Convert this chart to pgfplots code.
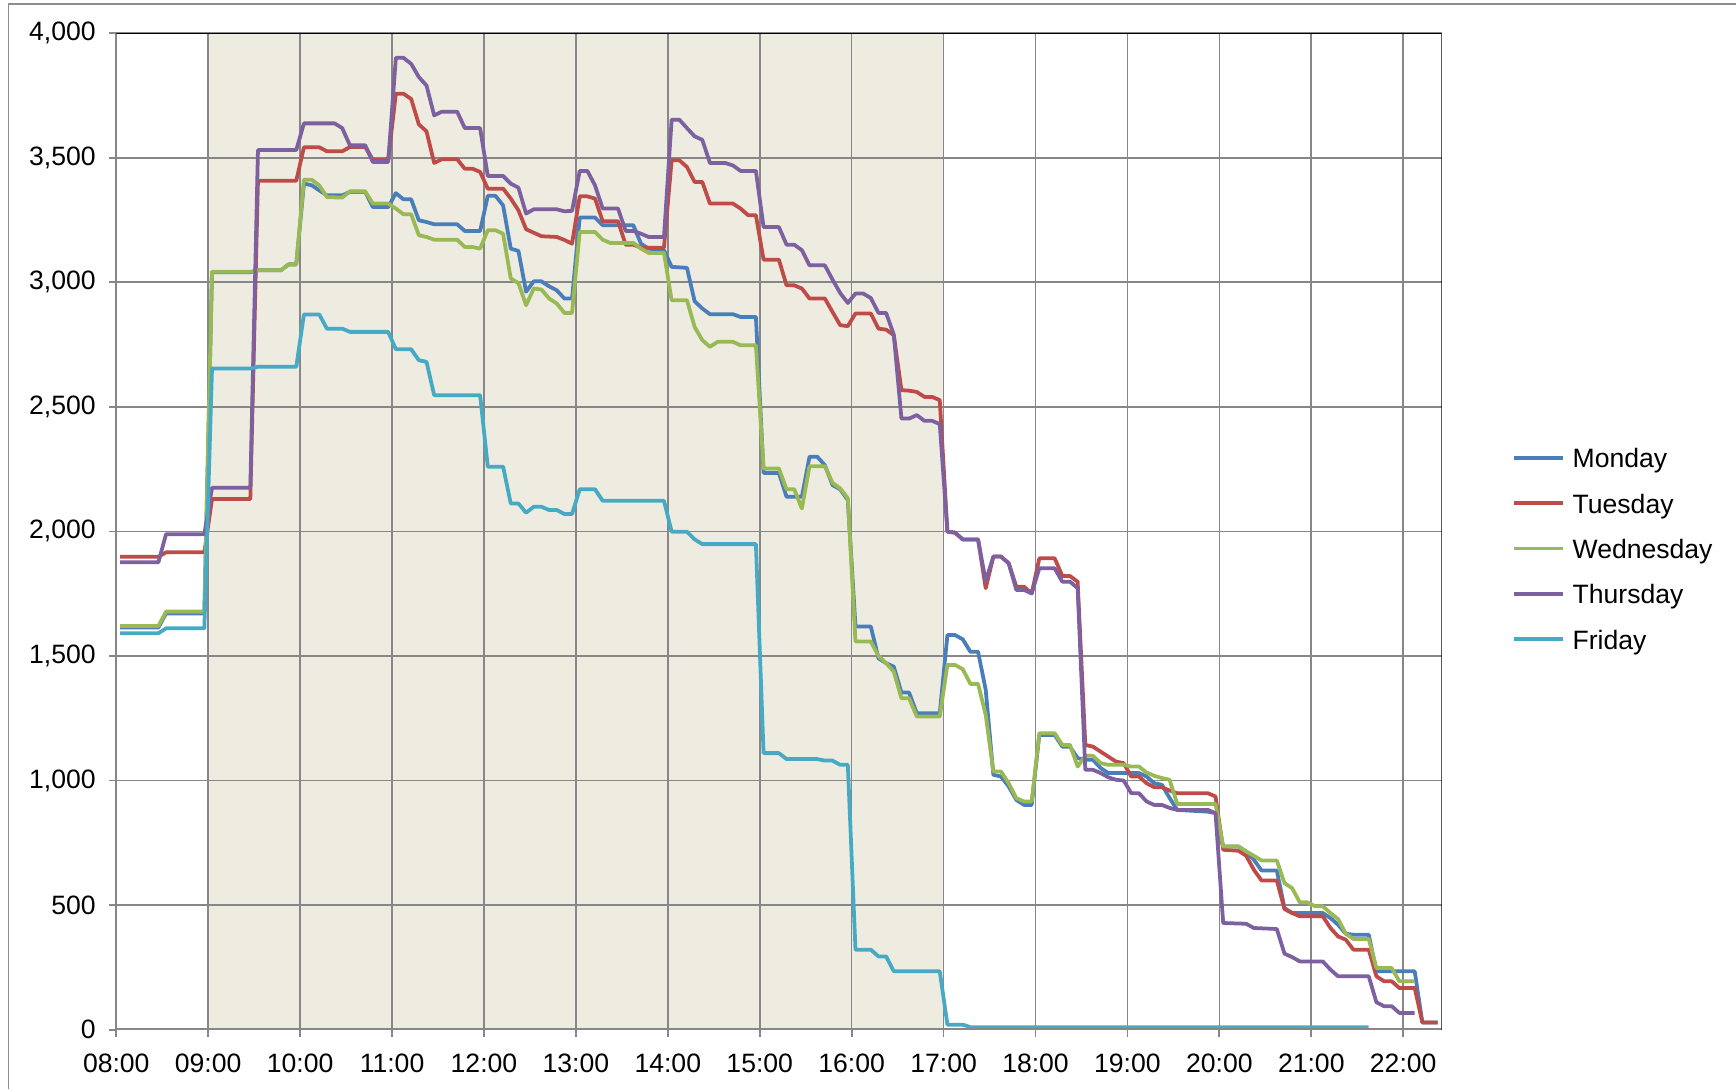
\documentclass[border=0pt]{standalone}
\usepackage{pgfplots}
\pgfplotsset{compat=1.18}
\usepackage{fontspec}
\setmainfont{Liberation Sans}
\definecolor{cMon}{HTML}{4A7EBB}
\definecolor{cTue}{HTML}{BE4B48}
\definecolor{cWed}{HTML}{98B954}
\definecolor{cThu}{HTML}{7D60A0}
\definecolor{cFri}{HTML}{46AAC5}
\definecolor{shadecol}{HTML}{EEECE1}
\definecolor{gridgray}{HTML}{878787}
\definecolor{framegray}{HTML}{8C8C8C}
\begin{document}
\begin{tikzpicture}
\begin{axis}[
  set layers,
  at={(52.5pt,27pt)}, anchor=south west,
  scale only axis, width=598.5pt, height=450pt,
  xmin=0, xmax=865, ymin=0, ymax=4000,
  xtick={0,60,...,840},
  xticklabels={08:00,09:00,10:00,11:00,12:00,13:00,14:00,15:00,16:00,17:00,18:00,19:00,20:00,21:00,22:00},
  ytick={0,500,...,4000},
  yticklabels={0,500,{1,000},{1,500},{2,000},{2,500},{3,000},{3,500},{4,000}},
  grid=major, major grid style={color=gridgray, line width=0.75pt},
  axis line style={draw=none},
  tick align=outside, xtick pos=left, ytick pos=left,
  major tick length=3.3pt,
  tick style={color=gridgray, line width=0.8pt},
  tick label style={font=\fontsize{12}{14.4}\selectfont, text=black},
  xticklabel style={yshift=-4.3pt},
  yticklabel style={xshift=-2.5pt},
  legend cell align=left,
  legend style={at={(axis description cs:1.0535,0.4828)}, anchor=west, draw=none, fill=none,
    inner sep=0pt, outer sep=0pt, row sep=11.6pt, column sep=3.5pt,
    nodes={inner sep=0pt, text height=8.9pt, text depth=0pt, font=\fontsize{12}{14.4}\selectfont}},
  legend image code/.code={\draw[#1, line width=1.7pt] (0pt,0pt) -- (22pt,0pt);},
  every axis plot/.append style={line width=1.7pt, line join=round, mark=none},
]
\addplot[fill=shadecol, draw=none, line width=0pt, forget plot, on layer=axis background] coordinates {(60,0)(60,4000)(540,4000)(540,0)} \closedcycle;

\addplot[color=cMon] coordinates {(2.5,1614)(27.5,1614)(32.5,1671)(57.5,1671)(62.5,3040)(87.5,3040)(92.5,3048)(107.5,3048)(112.5,3072)(117.5,3072)(122.5,3396)(127.5,3390)(132.5,3369)(137.5,3349)(147.5,3349)(152.5,3363)(162.5,3363)(167.5,3302)(177.5,3302)(182.5,3358)(187.5,3333)(192.5,3333)(197.5,3249)(202.5,3242)(207.5,3233)(222.5,3233)(227.5,3206)(237.5,3206)(242.5,3347)(247.5,3347)(252.5,3309)(257.5,3135)(262.5,3126)(267.5,2962)(272.5,3004)(277.5,3004)(282.5,2984)(287.5,2968)(292.5,2935)(297.5,2935)(302.5,3260)(312.5,3260)(317.5,3229)(337.5,3229)(342.5,3155)(347.5,3135)(357.5,3129)(362.5,3062)(372.5,3058)(377.5,2924)(382.5,2895)(387.5,2872)(402.5,2872)(407.5,2861)(417.5,2861)(422.5,2235)(432.5,2235)(437.5,2139)(447.5,2139)(452.5,2300)(457.5,2300)(462.5,2266)(467.5,2186)(472.5,2169)(477.5,2126)(482.5,1618)(492.5,1618)(497.5,1491)(502.5,1471)(507.5,1457)(512.5,1353)(517.5,1353)(522.5,1270)(537.5,1270)(542.5,1584)(547.5,1584)(552.5,1567)(557.5,1517)(562.5,1517)(567.5,1364)(572.5,1023)(577.5,1016)(582.5,976)(587.5,922)(592.5,902)(597.5,902)(602.5,1183)(612.5,1183)(617.5,1136)(622.5,1136)(627.5,1090)(632.5,1083)(637.5,1083)(642.5,1050)(647.5,1030)(667.5,1030)(672.5,1016)(677.5,989)(682.5,983)(687.5,930)(692.5,882)(712.5,875)(717.5,869)(722.5,735)(732.5,735)(737.5,715)(742.5,682)(747.5,639)(757.5,639)(762.5,488)(767.5,468)(787.5,468)(792.5,448)(797.5,421)(802.5,385)(807.5,381)(817.5,381)(822.5,234)(847.5,234)(852.5,29)(862.5,29)};
\addlegendentry{Monday}

\addplot[color=cTue] coordinates {(2.5,1898)(27.5,1898)(32.5,1916)(57.5,1916)(62.5,2130)(87.5,2130)(92.5,3408)(117.5,3408)(122.5,3542)(132.5,3542)(137.5,3526)(147.5,3526)(152.5,3543)(162.5,3543)(167.5,3492)(177.5,3492)(182.5,3757)(187.5,3757)(192.5,3736)(197.5,3634)(202.5,3606)(207.5,3479)(212.5,3494)(222.5,3494)(227.5,3456)(232.5,3456)(237.5,3443)(242.5,3376)(252.5,3376)(257.5,3336)(262.5,3289)(267.5,3213)(272.5,3199)(277.5,3185)(287.5,3182)(292.5,3170)(297.5,3155)(302.5,3345)(307.5,3345)(312.5,3336)(317.5,3245)(327.5,3245)(332.5,3151)(337.5,3151)(342.5,3139)(357.5,3139)(362.5,3490)(367.5,3490)(372.5,3463)(377.5,3403)(382.5,3403)(387.5,3316)(402.5,3316)(407.5,3296)(412.5,3269)(417.5,3269)(422.5,3091)(432.5,3091)(437.5,2988)(442.5,2988)(447.5,2975)(452.5,2935)(462.5,2935)(467.5,2881)(472.5,2828)(477.5,2824)(482.5,2875)(492.5,2875)(497.5,2814)(502.5,2810)(507.5,2788)(512.5,2567)(517.5,2565)(522.5,2560)(527.5,2540)(532.5,2540)(537.5,2527)(542.5,1999)(547.5,1995)(552.5,1968)(562.5,1968)(567.5,1772)(572.5,1899)(577.5,1899)(582.5,1872)(587.5,1778)(592.5,1778)(597.5,1751)(602.5,1892)(612.5,1892)(617.5,1821)(622.5,1821)(627.5,1798)(632.5,1143)(637.5,1136)(642.5,1116)(647.5,1096)(652.5,1076)(657.5,1070)(662.5,1016)(667.5,1016)(672.5,989)(677.5,973)(682.5,973)(687.5,960)(692.5,949)(712.5,949)(717.5,936)(722.5,722)(732.5,718)(737.5,698)(742.5,642)(747.5,599)(757.5,599)(762.5,484)(767.5,468)(772.5,455)(787.5,455)(792.5,408)(797.5,374)(802.5,361)(807.5,321)(817.5,321)(822.5,214)(827.5,194)(832.5,194)(837.5,167)(847.5,167)(852.5,29)(862.5,29)};
\addlegendentry{Tuesday}

\addplot[color=cWed] coordinates {(2.5,1620)(27.5,1620)(32.5,1678)(57.5,1678)(62.5,3042)(87.5,3042)(92.5,3048)(107.5,3048)(112.5,3072)(117.5,3072)(122.5,3412)(127.5,3412)(132.5,3389)(137.5,3342)(147.5,3340)(152.5,3365)(162.5,3365)(167.5,3316)(177.5,3316)(182.5,3296)(187.5,3273)(192.5,3273)(197.5,3189)(202.5,3182)(207.5,3171)(222.5,3171)(227.5,3142)(232.5,3142)(237.5,3135)(242.5,3209)(247.5,3209)(252.5,3195)(257.5,3015)(262.5,2997)(267.5,2908)(272.5,2975)(277.5,2971)(282.5,2935)(287.5,2915)(292.5,2877)(297.5,2877)(302.5,3202)(312.5,3202)(317.5,3171)(322.5,3158)(337.5,3158)(342.5,3135)(347.5,3118)(357.5,3118)(362.5,2928)(372.5,2928)(377.5,2821)(382.5,2768)(387.5,2741)(392.5,2761)(402.5,2761)(407.5,2747)(417.5,2747)(422.5,2253)(432.5,2253)(437.5,2169)(442.5,2169)(447.5,2092)(452.5,2262)(462.5,2262)(467.5,2195)(472.5,2173)(477.5,2133)(482.5,1558)(492.5,1558)(497.5,1500)(502.5,1471)(507.5,1437)(512.5,1330)(517.5,1330)(522.5,1257)(537.5,1257)(542.5,1464)(547.5,1464)(552.5,1447)(557.5,1388)(562.5,1388)(567.5,1263)(572.5,1036)(577.5,1036)(582.5,989)(587.5,929)(592.5,916)(597.5,916)(602.5,1190)(612.5,1190)(617.5,1143)(622.5,1143)(627.5,1056)(632.5,1099)(637.5,1099)(642.5,1070)(647.5,1063)(657.5,1063)(662.5,1056)(667.5,1056)(672.5,1032)(677.5,1019)(682.5,1010)(687.5,1003)(692.5,906)(717.5,906)(722.5,735)(732.5,735)(737.5,715)(742.5,698)(747.5,679)(757.5,679)(762.5,588)(767.5,568)(772.5,511)(777.5,511)(782.5,495)(787.5,495)(792.5,468)(797.5,444)(802.5,385)(807.5,364)(817.5,364)(822.5,247)(832.5,247)(837.5,194)(847.5,194)};
\addlegendentry{Wednesday}

\addplot[color=cThu] coordinates {(2.5,1876)(27.5,1876)(32.5,1989)(57.5,1989)(62.5,2175)(87.5,2175)(92.5,3531)(117.5,3531)(122.5,3638)(142.5,3638)(147.5,3619)(152.5,3550)(162.5,3550)(167.5,3483)(177.5,3483)(182.5,3901)(187.5,3901)(192.5,3877)(197.5,3824)(202.5,3790)(207.5,3670)(212.5,3685)(222.5,3685)(227.5,3619)(237.5,3619)(242.5,3427)(252.5,3427)(257.5,3396)(262.5,3380)(267.5,3276)(272.5,3293)(287.5,3293)(292.5,3285)(297.5,3287)(302.5,3447)(307.5,3447)(312.5,3389)(317.5,3296)(327.5,3296)(332.5,3206)(337.5,3206)(342.5,3195)(347.5,3182)(357.5,3182)(362.5,3653)(367.5,3653)(372.5,3619)(377.5,3586)(382.5,3572)(387.5,3479)(397.5,3479)(402.5,3469)(407.5,3447)(417.5,3447)(422.5,3222)(432.5,3222)(437.5,3151)(442.5,3151)(447.5,3129)(452.5,3068)(462.5,3068)(467.5,3011)(472.5,2957)(477.5,2917)(482.5,2955)(487.5,2955)(492.5,2937)(497.5,2877)(502.5,2877)(507.5,2790)(512.5,2453)(517.5,2453)(522.5,2467)(527.5,2444)(532.5,2444)(537.5,2431)(542.5,1999)(547.5,1995)(552.5,1968)(562.5,1968)(567.5,1800)(572.5,1899)(577.5,1899)(582.5,1872)(587.5,1765)(592.5,1765)(597.5,1751)(602.5,1852)(612.5,1852)(617.5,1798)(622.5,1798)(627.5,1772)(632.5,1043)(637.5,1043)(642.5,1030)(647.5,1013)(652.5,1003)(657.5,1000)(662.5,949)(667.5,949)(672.5,916)(677.5,902)(682.5,902)(687.5,890)(692.5,882)(712.5,882)(717.5,869)(722.5,428)(737.5,425)(742.5,408)(757.5,404)(762.5,305)(767.5,291)(772.5,274)(787.5,274)(792.5,241)(797.5,214)(817.5,214)(822.5,110)(827.5,94)(832.5,94)(837.5,67)(847.5,67)};
\addlegendentry{Thursday}

\addplot[color=cFri] coordinates {(2.5,1591)(27.5,1591)(32.5,1611)(57.5,1611)(62.5,2654)(87.5,2654)(92.5,2661)(117.5,2661)(122.5,2871)(132.5,2871)(137.5,2814)(147.5,2814)(152.5,2801)(177.5,2801)(182.5,2731)(192.5,2731)(197.5,2687)(202.5,2681)(207.5,2547)(237.5,2547)(242.5,2260)(252.5,2260)(257.5,2112)(262.5,2112)(267.5,2075)(272.5,2099)(277.5,2099)(282.5,2086)(287.5,2086)(292.5,2070)(297.5,2070)(302.5,2169)(312.5,2169)(317.5,2123)(357.5,2123)(362.5,1999)(372.5,1999)(377.5,1968)(382.5,1949)(417.5,1949)(422.5,1110)(432.5,1110)(437.5,1086)(457.5,1086)(462.5,1080)(467.5,1080)(472.5,1063)(477.5,1063)(482.5,321)(492.5,321)(497.5,294)(502.5,294)(507.5,234)(537.5,234)(542.5,20)(552.5,20)(557.5,10)(817.5,10)};
\addlegendentry{Friday}

\draw[color=gridgray, line width=0.8pt] (rel axis cs:0,0) -- (rel axis cs:0,1);
\draw[color=gridgray, line width=1.2pt] (rel axis cs:0,0) -- (rel axis cs:1,0);
\draw[black, line width=0.9pt] (rel axis cs:0,1) -- (rel axis cs:1,1) -- (rel axis cs:1,0);
\end{axis}
\draw[color=framegray, line width=0.7pt] (3.8pt,0pt) -- (3.8pt,490.2pt) -- (784pt,490.2pt);
\pgfresetboundingbox
\useasboundingbox (0pt,0pt) rectangle (784pt,492pt);
\end{tikzpicture}
\end{document}
